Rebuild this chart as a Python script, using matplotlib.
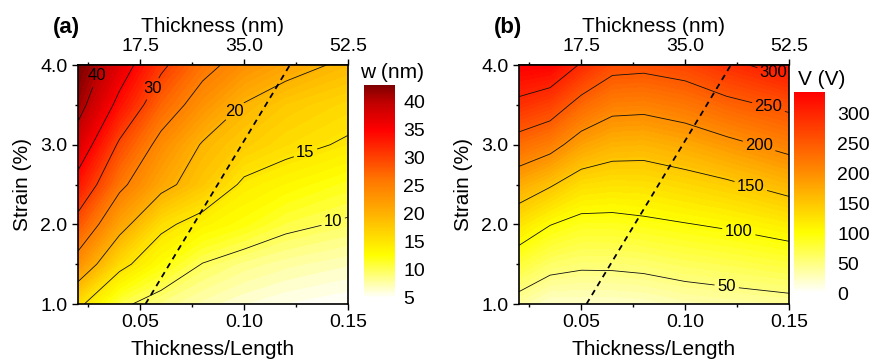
import numpy as np
import matplotlib
matplotlib.use('Agg')
import matplotlib.pyplot as plt
from matplotlib.colors import LinearSegmentedColormap, Normalize
from matplotlib.cm import ScalarMappable
from matplotlib.ticker import FormatStrFormatter

plt.rcParams['font.family'] = ['Liberation Sans', 'DejaVu Sans']

# ---- data ----
strain = [1.0, 1.5, 2.0, 2.5, 3.0, 3.5, 4.0]

# panel (a): w (nm), rows = strain, columns = thickness/length
ratio_a = [0.02, 0.04, 0.06, 0.08, 0.10, 0.12, 0.15]
w_nm = [
    [15.8, 10.6, 8.7, 7.3, 6.3, 5.6, 5.0],
    [23.3, 16.0, 12.5, 9.9, 8.6, 7.8, 7.0],
    [28.5, 21.5, 15.8, 13.6, 12.3, 10.7, 9.6],
    [33.4, 25.9, 21.2, 18.0, 14.4, 13.3, 11.8],
    [37.9, 29.4, 23.8, 19.7, 17.5, 16.0, 14.6],
    [41.5, 33.8, 27.3, 23.2, 19.8, 17.8, 16.3],
    [43.5, 37.2, 30.8, 26.2, 23.4, 21.5, 19.2],
]
levels_a = [10, 15, 20, 25, 30, 35, 40]
labeled_a = [10, 15, 20, 30, 40]

# panel (b): V (V)
ratio_b = [0.02, 0.035, 0.05, 0.065, 0.08, 0.10, 0.12, 0.15]
v_volt = [
    [37, 21, 22, 22, 24, 31, 35, 40],
    [79, 61, 55, 55.4, 58, 64.6, 69, 77],
    [123.6, 101, 89, 89, 93, 98.6, 104.4, 117],
    [174, 153.6, 130, 126, 127, 134.8, 144, 164],
    [231, 214, 182, 167, 165, 175, 190, 212],
    [290, 274, 235, 213, 211, 221, 239, 259],
    [338, 334, 296, 263, 260, 269, 290, 318],
]
levels_b = [50, 100, 150, 200, 250, 300]

# dashed boundary line (same in both panels)
dash_ratio = [0.0525, 0.122]
dash_strain = [1.0, 4.0]

nm_per_ratio = 350.0  # thickness (nm) = 350 * thickness/length

cmap_a = LinearSegmentedColormap.from_list('wa', [
    (0.0, '#FFFFFF'), (0.2, '#FFFF00'), (0.42, '#FFA800'),
    (0.55, '#FF7800'), (0.79, '#FF0000'), (0.92, '#C00000'),
    (1.0, '#800000')])
cmap_b = LinearSegmentedColormap.from_list('vb', [
    (0.0, '#FFFFFF'), (0.30, '#FFFF00'), (0.60, '#FF8C00'),
    (1.0, '#FF0000')])

fig = plt.figure(figsize=(8.75, 3.62), dpi=100)


def panel(rect, xs, z, cmap, vmin, vmax, levels, labeled, label_pos, tag):
    ax = fig.add_axes(rect)
    X, Y = np.meshgrid(xs, strain)
    Z = np.array(z, dtype=float)
    norm = Normalize(vmin, vmax)
    ax.contourf(X, Y, Z, levels=np.linspace(vmin, vmax, 60), cmap=cmap,
                norm=norm, extend='both', antialiased=False)
    plain = [l for l in levels if l not in labeled]
    if plain:
        ax.contour(X, Y, Z, levels=plain, colors='#111111', linewidths=0.6)
    cs = ax.contour(X, Y, Z, levels=labeled, colors='#111111', linewidths=0.6)
    txt = ax.clabel(cs, manual=label_pos, fmt='%d', colors='black',
                    fontsize=12, inline=True, inline_spacing=3)
    for t in txt:
        t.set_rotation(0)
    ax.plot(dash_ratio, dash_strain, color='black', lw=1.3,
            dashes=(3.2, 2.6))
    ax.set_xlim(0.02, 0.15)
    ax.set_ylim(1.0, 4.0)
    ax.set_xticks([0.05, 0.10, 0.15])
    ax.set_xticks([0.025, 0.075, 0.125], minor=True)
    ax.set_yticks([1.0, 2.0, 3.0, 4.0])
    ax.set_yticks([1.5, 2.5, 3.5], minor=True)
    ax.xaxis.set_major_formatter(FormatStrFormatter('%.2f'))
    ax.yaxis.set_major_formatter(FormatStrFormatter('%.1f'))
    ax.tick_params(which='major', length=4, width=1, labelsize=14)
    ax.tick_params(which='minor', length=2.5, width=1)
    for s in ax.spines.values():
        s.set_linewidth(1.2)
    ax.set_xlabel('Thickness/Length', fontsize=15, labelpad=6)
    ax.set_ylabel('Strain (%)', fontsize=15, labelpad=6)

    top = ax.secondary_xaxis('top', functions=(lambda r: r * nm_per_ratio,
                                               lambda t: t / nm_per_ratio))
    top.set_xticks([17.5, 35.0, 52.5])
    top.set_xticks([8.75, 26.25, 43.75], minor=True)
    top.xaxis.set_major_formatter(FormatStrFormatter('%.1f'))
    top.tick_params(which='major', length=4, width=1, labelsize=14)
    top.tick_params(which='minor', length=2.5, width=1)
    top.set_xlabel('Thickness (nm)', fontsize=15, labelpad=4)
    top.spines['top'].set_linewidth(1.2)

    fig.text(rect[0] - 0.013, 0.925, tag, fontsize=16, fontweight='bold',
             ha='center', va='center')
    return norm


norm_a = panel([0.0891, 0.1602, 0.3086, 0.660], ratio_a, w_nm, cmap_a, 5, 43,
               levels_a, labeled_a,
               [(0.0328, 3.83), (0.0534, 3.74), (0.0959, 3.41),
                (0.1295, 2.90), (0.1428, 2.04)], '(a)')
norm_b = panel([0.5931, 0.1602, 0.3086, 0.660], ratio_b, v_volt, cmap_b, 0, 336,
               levels_b, levels_b,
               [(0.1423, 3.89), (0.140, 3.46), (0.136, 3.02),
                (0.132, 2.52), (0.126, 1.93), (0.120, 1.22)], '(b)')

# colorbars
cax_a = fig.add_axes([0.416, 0.1768, 0.0354, 0.588])
cb_a = fig.colorbar(ScalarMappable(norm_a, cmap_a), cax=cax_a)
cb_a.set_ticks([5, 10, 15, 20, 25, 30, 35, 40])
cb_a.outline.set_visible(False)
cb_a.ax.tick_params(length=0, labelsize=14, pad=6)
fig.text(0.448, 0.80, 'w (nm)', fontsize=15, ha='center', va='center')

cax_b = fig.add_axes([0.9074, 0.1906, 0.0354, 0.555])
cb_b = fig.colorbar(ScalarMappable(norm_b, cmap_b), cax=cax_b)
cb_b.set_ticks([0, 50, 100, 150, 200, 250, 300])
cb_b.outline.set_visible(False)
cb_b.ax.tick_params(length=0, labelsize=14, pad=9)
fig.text(0.939, 0.78, 'V (V)', fontsize=15, ha='center', va='center')

fig.savefig('out.png', dpi=100)
